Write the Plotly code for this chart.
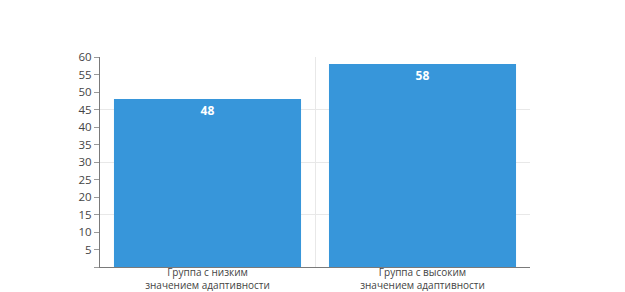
import plotly.graph_objects as go

categories = ["Группа с низким<br>значением адаптивности", "Группа с высоким<br>значением адаптивности"]
values = [48, 58]
y_tick_vals = list(range(0, 65, 5))
y_tick_text = ["" if v == 0 else str(v) for v in y_tick_vals]

fig = go.Figure()
fig.add_trace(go.Bar(
    x=categories, y=values,
    marker=dict(color="#3796DA", line=dict(width=0)),
    text=[str(v) for v in values], textposition="inside", insidetextanchor="end",
    textfont=dict(color="white", size=12, family="Open Sans", weight="bold"),
    width=0.87, showlegend=False,
))
# grid-only overlay axis (grid every 15)
fig.add_trace(go.Scatter(x=categories, y=values, yaxis="y2", mode="markers",
                         marker=dict(opacity=0), showlegend=False, hoverinfo="skip"))

# page body has an 8px default margin, so the figure is sized to compensate
fig.update_layout(
    width=617, height=284,
    margin=dict(l=92, r=95, t=49, b=25, autoexpand=False),
    paper_bgcolor="white", plot_bgcolor="rgba(0,0,0,0)",
    font=dict(family="Open Sans", color="#444444", size=11),
    xaxis=dict(tickson="boundaries", showgrid=True, gridcolor="#E8E8E8", gridwidth=1,
               showline=True, linecolor="#7a7a7a", linewidth=1, ticks="", automargin=False,
               ticklabelstandoff=-4,
               tickfont=dict(size=10, color="#444444"), range=[-0.5, 1.5]),
    yaxis=dict(range=[0, 60], tickvals=y_tick_vals, ticktext=y_tick_text, automargin=False,
               showgrid=False, zeroline=False, showline=True, linecolor="#7a7a7a",
               ticks="outside", ticklen=5, tickcolor="#9a9a9a",
               tickfont=dict(size=11.5, color="#444444")),
    yaxis2=dict(range=[0, 60], overlaying="y", dtick=15, showgrid=True, gridcolor="#E8E8E8",
                showticklabels=False, zeroline=False, ticks="", automargin=False,
                layer="below traces"),
    bargap=0.13,
)
fig.write_html("out.html")
